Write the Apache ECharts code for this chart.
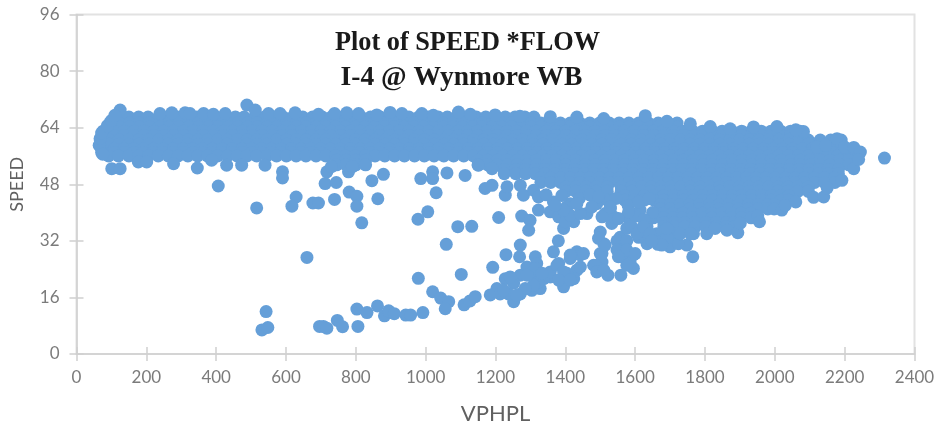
<!DOCTYPE html>
<html><head><meta charset="utf-8">
<style>html,body{margin:0;padding:0;background:#fff}#c{width:940px;height:428px}</style>
<script src="https://cdn.jsdelivr.net/npm/echarts@6/dist/echarts.min.js"></script>
</head><body><div id="c"></div>
<script>
const xTickMax = 2400, yTickMax = 96;
// flows read along bands of roughly constant speed
const flowAt67 = [118,150,178,205,236,262,290,318,345,372,400,428,455,480,510,538,565,592,620,648,676,704,730,760,788,815,842,870,898,925,952,980,1008,1036,1062,1090,1118,1145,1172,1200,1228,1256,1284,1310];
const flowAt65 = [95,122,152,180,208,238,265,293,322,350,378,406,434,462,490,518,546,574,602,630,658,686,714,742,770,798,826,854,882,910,938,966,994,1022,1050,1078,1106,1134,1162,1190,1218,1246,1274,1302,1330,1358,1386,1414,1442,1470,1498,1526,1554,1582,1610,1638,1666,1694,1720];
const flowAt63 = [76,108,136,165,194,222,250,279,307,335,363,392,420,448,476,504,532,561,589,617,645,673,701,729,757,785,813,841,869,897,925,953,981,1009,1037,1065,1093,1121,1149,1177,1205,1233,1261,1289,1317,1345,1373,1401,1429,1457,1485,1513,1541,1569,1597,1625,1653,1681,1709,1737,1765,1793,1821,1849,1877,1905,1933,1961,1989,2017,2045,2072];
const flowAt60 = [68,94,122,150,178,207,235,263,291,320,348,376,404,432,461,489,517,545,573,602,630,658,686,714,743,771,799,827,855,884,912,940,968,996,1025,1053,1081,1109,1137,1166,1194,1222,1250,1278,1307,1335,1363,1391,1419,1448,1476,1504,1532,1560,1589,1617,1645,1673,1701,1730,1758,1786,1814,1842,1871,1899,1927,1955,1983,2012,2040,2068,2096,2130,2160,2190];
const flowAt58 = [72,108,136,164,192,220,248,277,305,333,361,389,417,446,474,502,530,558,586,615,643,671,699,727,755,784,812,840,868,896,924,953,981,1009,1037,1065,1093,1122,1150,1178,1206,1234,1262,1291,1319,1347,1375,1403,1431,1460,1488,1516,1544,1572,1600,1629,1657,1685,1713,1741,1769,1798,1826,1854,1882,1910,1938,1967,1995,2023,2051,2079,2107,2136,2164,2192,2222];
const flowAt56 = [92,120,150,178,206,234,263,291,319,347,375,404,432,460,488,516,545,573,601,629,657,686,714,742,770,798,827,855,883,911,939,968,996,1024,1052,1080,1109,1137,1165,1193,1221,1250,1278,1306,1334,1362,1391,1419,1447,1475,1503,1532,1560,1588,1616,1644,1673,1701,1729,1757,1785,1814,1842,1870,1898,1926,1955,1983,2011,2039,2067,2096,2124,2152,2180,2208,2232];
const flowAt53 = [745,772,800,828,1150,1178,1206,1234,1262,1290,1318,1346,1374,1402,1430,1458,1486,1514,1542,1570,1598,1626,1654,1682,1710,1738,1766,1794,1822,1850,1878,1906,1934,1962,1990,2018,2046,2074,2102,2130,2158,2186,2212];
const flowAt51 = [1225,1258,1286,1314,1342,1370,1398,1426,1454,1482,1510,1538,1566,1594,1622,1650,1678,1706,1734,1762,1790,1818,1846,1874,1902,1930,1958,1986,2014,2042,2070,2098,2126,2154,2182];
const flowAt48 = [1330,1358,1386,1414,1442,1470,1498,1526,1554,1582,1610,1638,1666,1694,1722,1750,1778,1806,1834,1862,1890,1918,1946,1974,2002,2030,2058,2086,2114,2142,2172];
const flowAt46 = [1402,1430,1460,1488,1520,1560,1590,1618,1646,1674,1702,1730,1758,1786,1814,1842,1870,1898,1926,1954,1982,2010,2038,2066,2096];
const flowAt43 = [1570,1598,1626,1654,1682,1710,1738,1766,1794,1822,1850,1878,1906,1934,1962,1990,2018,2040];
const flowAt41 = [1672,1700,1728,1756,1784,1812,1840,1868,1896,1924,1952,1980,1998];
const flowAt38 = [1652,1680,1708,1736,1764,1792,1820,1848,1876,1904,1932];
const flowAt36 = [1682,1712,1742,1772,1802,1832,1862,1884];
const speedBands = [[67,flowAt67],[65.3,flowAt65],[64.2,flowAt65],[63,flowAt63],[61.8,flowAt63],[60.5,flowAt60],[59.3,flowAt60],[58,flowAt58],[57,flowAt58],[56,flowAt56],[54.8,flowAt53],[53.5,flowAt53],[52.2,flowAt51],[51,flowAt51],[49.8,flowAt48],[48.5,flowAt48],[47.2,flowAt46],[46,flowAt46],[44.8,flowAt43],[43.5,flowAt43],[42.2,flowAt41],[41,flowAt41],[39.8,flowAt38],[38.5,flowAt38],[37.2,flowAt36],[36,flowAt36]];
// scalloped upper rim of the cloud
const upperRim = [[65,59],[68,61],[72,62.5],[88,64.5],[100,66],[125,69],[110,67.5],[239,68],[273,68.2],[311,68.2],[325,68],[364,68],[392,67.8],[426,68],[488,70.4],[512,69],[550,68],[583,68],[626,68.2],[693,67.8],[739,68],[774,68.2],[808,68],[860,67.6],[898,68.3],[932,68],[989,68],[1022,67.5],[1094,68.4],[1128,67.8],[1199,67.6],[1270,67.2],[1357,67.1],[1433,67],[1510,66.6],[1629,67.4],[1691,65.8],[1758,65.1],[1815,64.3],[1872,63.7],[1939,64.2],[2006,64.3],[2082,62.9],[2060,63.4],[2120,58.5],[2145,59],[2178,60.9],[2200,58.5],[2226,58.4],[2245,57.1]];
// scalloped lower rim and detached points
const lowerRim = [[75,56.5],[101,52.4],[125,52.4],[177,54.3],[201,54.3],[278,53.8],[346,52.6],[387,54.8],[430,53.4],[473,53.4],[540,53.4],[590,51.5],[717,51.5],[779,51.5],[730,53],[790,53],[879,50.8],[1020,51.5],[1061,51.2],[1113,50.5],[1151,53.4],[1190,52.4],[1170,46.8],[1190,47.7],[1228,44.9],[1233,47.3],[1271,47.7],[1280,44.9],[1309,46.3],[1323,44.4],[1366,43],[1414,42.5],[1323,40.7],[1357,40.2],[1385,38.8],[1404,41.6],[1424,37.4],[1462,39.7],[1490,42.5],[1529,41.1],[1533,36.9],[1576,38.8],[1614,40.7],[1634,36],[1662,34],[1700,34.5],[1710,32],[1767,34],[1805,34],[1829,35.5],[1863,35],[1894,34.3],[1901,37],[1951,39],[1956,37.4],[2020,40.7],[2030,42],[2060,43],[2111,44.3],[2140,44.4],[2150,47],[2192,49.1],[2226,52.4],[2240,55],[1520,43.5],[1545,44],[1580,42],[1610,43],[1640,44],[1650,40],[1600,39],[1440,44],[1470,45],[1495,44.5],[1345,45],[1390,44.8],[1625,38],[1620,35.5]];
const detached = [[2314,55.4],[406,47.5],[516,41.3],[590,49.8],[629,44.4],[617,41.8],[677,42.7],[693,42.7],[712,48.2],[744,48.5],[739,43.7],[781,45.8],[803,44.6],[803,41.8],[846,49],[863,43.9],[986,49.6],[1020,49.6],[1030,45.6],[1006,40.2],[978,38.1],[817,37.1],[1092,36],[1132,36.1],[1059,31],[660,27.3],[979,21.4],[1102,22.5],[1020,17.6],[1043,15.8],[1066,14.8],[1056,12.8],[1110,13.9],[1127,15],[1142,16.2],[543,12],[531,6.8],[548,7.5],[696,7.8],[707,7.8],[717,7.3],[747,9.5],[762,7.7],[806,7.8],[803,12.7],[832,11.7],[862,13.6],[882,10.8],[894,12.2],[910,11.4],[943,11],[957,11],[992,11.7],[1209,38.6],[1275,39],[1299,37.8],[1295,35],[1271,30.8],[1230,28.1],[1269,27.5],[1192,24.5],[1314,27.5],[1318,25.6],[1299,23.7],[1314,21.8],[1271,22.3],[1228,21.3],[1252,20],[1328,18.5],[1304,18],[1271,17],[1252,14.8],[1237,17],[1204,18.5],[1185,16.7],[1213,17],[1366,28.9],[1380,32],[1395,35.5],[1433,28.9],[1414,27],[1381,25.6],[1443,28],[1433,23.7],[1424,21.3],[1395,19],[1357,21.8],[1404,22.8],[1500,34.5],[1510,31.2],[1500,28.4],[1505,26],[1481,25.1],[1522,22.3],[1559,22.3],[1595,24.2],[1557,33],[1576,35.5],[1557,30.3],[1562,27.5],[1595,28],[1586,25.6],[1634,31.2],[1665,31],[1700,30.3],[1748,30.8],[1765,27.5],[1610,33],[1590,36],[1640,33.5]];
// further marks read from the dense lower clusters
const lowerClusters = [[1338,21.3],[1357,23.2],[1376,25.1],[1395,23.2],[1381,20.9],[1414,20.9],[1443,24.6],[1414,28],[1452,28.4],[1290,24.6],[1314,24.2],[1323,20.4],[1309,19.5],[1285,18.5],[1261,16.6],[1223,18],[1242,21.8],[1290,22.3],[1333,22.8],[1486,25],[1490,23.2],[1510,23.7],[1505,28.4],[1495,32.7],[1514,30.8],[1548,32],[1548,29.4],[1576,32],[1576,29.4],[1600,28.4],[1576,25.1],[1552,27.5],[1605,34],[1624,36],[1643,34],[1662,31.7],[1691,33],[1724,31.2],[1676,30.8],[1648,32],[1729,34],[1691,35.5],[1758,34],[1381,38.8],[1400,37.4],[1414,39.2],[1443,39.7],[1395,40.7],[1371,42],[1433,42.5],[1476,41.6],[1514,39.7],[1538,38.8],[1552,38.3],[1505,38.8],[1529,41.6],[1581,40.2]];

const points = [];
speedBands.forEach(([s, flows]) => flows.forEach(f => points.push([f, s])));
upperRim.concat(lowerRim, detached, lowerClusters).forEach(p => points.push(p));

const chart = echarts.init(document.getElementById('c'), null, {renderer:'canvas'});
const lineCol = '#cfcfcf', labelCol = '#7b7b7b';
const font = 'Lato, "Open Sans", sans-serif';
const titleBase = {fontFamily:'"Liberation Serif", serif', fontWeight:'bold', color:'#1a1a1a'};
chart.setOption({
  animation:false,
  backgroundColor:'#fff',
  title:[
    {text:'Plot of SPEED *FLOW', left:467.5, top:30, textAlign:'center', padding:0, textStyle:Object.assign({fontSize:26.3}, titleBase)},
    {text:'I-4 @ Wynmore WB', left:461.5, top:64, textAlign:'center', padding:0, textStyle:Object.assign({fontSize:27.5}, titleBase)}
  ],
  grid:{left:76.5, right:25.5, top:14.5, bottom:74, show:true, outerBoundsMode:'none', containLabel:false, borderColor:'#e2e2e2', borderWidth:2, backgroundColor:'transparent'},
  xAxis:[{
    type:'value', min:0, max:xTickMax, interval:200,
    name:'VPHPL', nameLocation:'middle', nameGap:49,
    nameTextStyle:{fontFamily:font, fontSize:22, color:'#606060'},
    axisLine:{show:true, onZero:false, lineStyle:{color:lineCol, width:1.5}},
    axisTick:{show:true, length:7, lineStyle:{color:lineCol, width:1.5}},
    axisLabel:{margin:15, fontFamily:font, fontSize:17, color:labelCol, showMinLabel:true, showMaxLabel:true, formatter:v=>String(v)},
    splitLine:{show:false}
  },{
    type:'value', min:0, max:xTickMax, interval:200, position:'bottom',
    axisLine:{show:false}, axisLabel:{show:false}, splitLine:{show:false},
    axisTick:{show:true, inside:true, length:7, lineStyle:{color:lineCol, width:1.5}}
  }],
  yAxis:[{
    type:'value', min:0, max:yTickMax, interval:16,
    name:'SPEED', nameLocation:'middle', nameGap:50, nameRotate:90,
    nameTextStyle:{fontFamily:font, fontSize:18, color:'#606060'},
    axisLine:{show:true, onZero:false, lineStyle:{color:lineCol, width:1.5}},
    axisTick:{show:true, length:7, lineStyle:{color:lineCol, width:1.5}},
    axisLabel:{margin:17, fontFamily:font, fontSize:17, color:labelCol, showMinLabel:true, showMaxLabel:true},
    splitLine:{show:false}
  },{
    type:'value', min:0, max:yTickMax, interval:16, position:'left',
    axisLine:{show:false}, axisLabel:{show:false}, splitLine:{show:false},
    axisTick:{show:true, inside:true, length:7, lineStyle:{color:lineCol, width:1.5}}
  }],
  series:[{
    type:'scatter', xAxisIndex:0, yAxisIndex:0, data:points,
    symbol:'circle', symbolSize:13, large:false,
    itemStyle:{color:'#659fd8', opacity:1}, silent:true
  }]
});
</script></body></html>
